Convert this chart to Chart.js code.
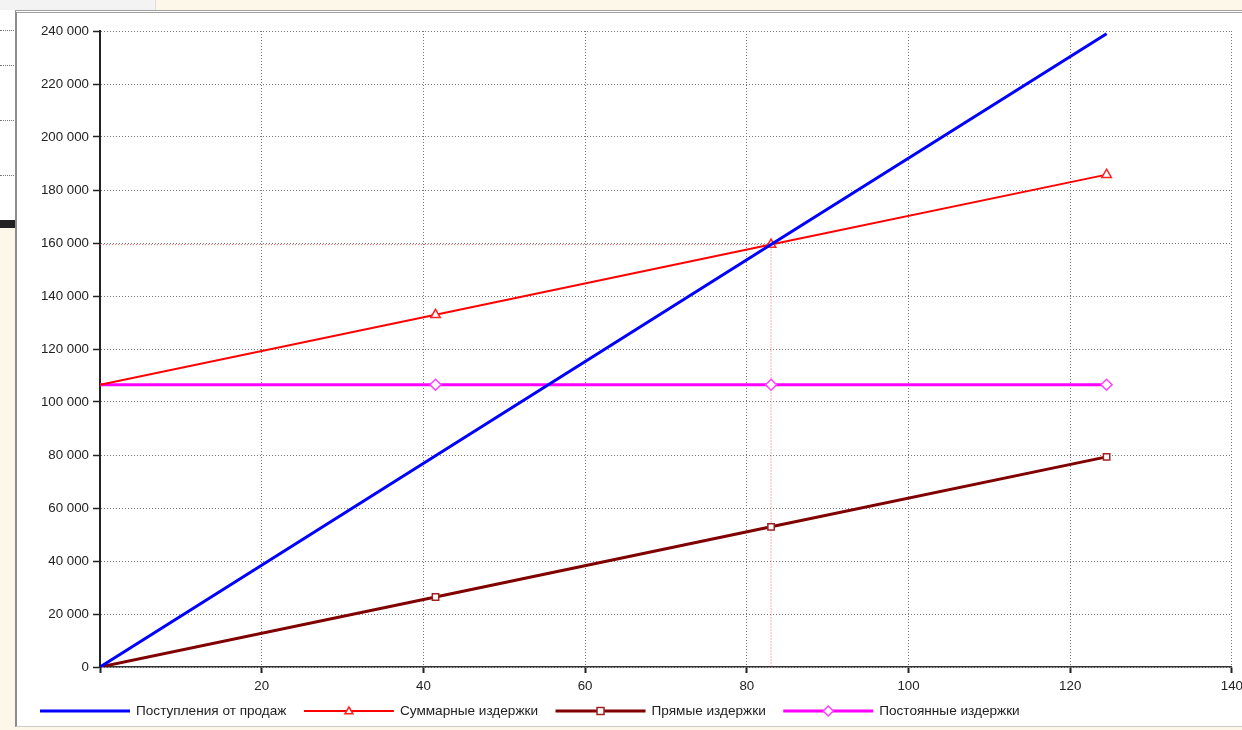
<!DOCTYPE html>
<html lang="ru">
<head>
    <meta charset="UTF-8" />
    <script src="https://cdn.jsdelivr.net/npm/chart.js"></script>
    <title>Точка безубыточности</title>
    <style>
        body { margin: 0; width: 1242px; height: 730px; overflow: hidden; background: #fdf7ea; position: relative; font-family: "Liberation Sans", Arial, sans-serif; }
        .strip { position: absolute; left: 0; top: 0; width: 155px; height: 10px; background: #f3f3f3; border-right: 1px solid #ddd; }
        .side { position: absolute; left: 0; top: 10px; width: 15px; height: 210px; background: #fff; }
        .side i { position: absolute; left: 0; width: 14px; border-top: 1px dotted #777; }
        .bar { position: absolute; left: 0; top: 220px; width: 15px; height: 8px; background: #222; }
        .frame { position: absolute; left: 15px; top: 10px; right: 0; bottom: 3px; background: #fff; border-left: 2px solid #8c8c8c; border-top: 3px double #a0a0a0; border-bottom: 1px solid #ccc; }
        .wrap { position: absolute; left: 17px; top: 13px; width: 1231px; height: 714px; }
    </style>
</head>
<body>
    <div class="strip"></div>
    <div class="side">
        <i style="top:20px"></i><i style="top:55px"></i><i style="top:110px"></i><i style="top:165px"></i>
    </div>
    <div class="bar"></div>
    <div class="frame"></div>
    <div class="wrap"><canvas id="grafico"></canvas></div>

    <script>
        // объём продаж, шт.
        const volumes = [0, 41.5, 83, 124.5];
        const revenue = [0, 79700, 159400, 239000];
        const totalCosts = [106500, 132900, 159400, 185800];
        const directCosts = [0, 26400, 52900, 79300];
        const fixedCosts = [106500, 106500, 106500, 106500];
        // точка безубыточности
        const breakEvenX = 83;
        const breakEvenY = 159400;

        const seriesNames = ['Поступления от продаж', 'Суммарные издержки', 'Прямые издержки', 'Постоянные издержки'];
        const xTicks = [0, 20, 40, 60, 80, 100, 120, 140];
        const yMax = 240000;

        const toPoints = vals => vals.map((v, i) => ({ x: volumes[i], y: v }));
        const markers = [0, 5.5, 5.5, 5.5];
        const fmt = v => String(v).replace(/\B(?=(\d{3})+(?!\d))/g, ' ');
        const fontFamily = '"Liberation Sans", Arial, sans-serif';

        const legendPlugin = {
            id: 'legendaSnizu',
            afterDraw(chart) {
                const ctx = chart.ctx;
                const y = 698;
                let x = 23;
                ctx.save();
                ctx.font = '13.6px ' + fontFamily;
                ctx.textBaseline = 'middle';
                chart.data.datasets.forEach(ds => {
                    if (ds.skipLegend) return;
                    ctx.strokeStyle = ds.borderColor;
                    ctx.lineWidth = ds.borderWidth;
                    ctx.setLineDash([]);
                    ctx.beginPath();
                    ctx.moveTo(x, y);
                    ctx.lineTo(x + 90, y);
                    ctx.stroke();
                    drawMarker(ctx, ds.pointStyle, x + 45, y, ds.legendRadius, ds.pointBorderColor, ds.pointBorderWidth);
                    ctx.fillStyle = '#222';
                    ctx.fillText(ds.label, x + 96, y);
                    x += 96 + ctx.measureText(ds.label).width + 17.5;
                });
                ctx.restore();
            }
        };

        function drawMarker(ctx, style, x, y, r, color, w) {
            if (!r) return;
            ctx.beginPath();
            if (style === 'triangle') {
                ctx.moveTo(x, y - r);
                ctx.lineTo(x + r, y + r * 0.7);
                ctx.lineTo(x - r, y + r * 0.7);
                ctx.closePath();
            } else if (style === 'rect') {
                ctx.rect(x - r, y - r, 2 * r, 2 * r);
            } else if (style === 'rectRot') {
                ctx.moveTo(x, y - r);
                ctx.lineTo(x + r, y);
                ctx.lineTo(x, y + r);
                ctx.lineTo(x - r, y);
                ctx.closePath();
            } else {
                return;
            }
            ctx.fillStyle = '#fff';
            ctx.fill();
            ctx.lineWidth = w;
            ctx.strokeStyle = color;
            ctx.stroke();
        }

        new Chart(document.getElementById('grafico'), {
            type: 'line',
            data: {
                datasets: [
                    {
                        label: seriesNames[0],
                        data: toPoints(revenue),
                        borderColor: '#0000ff',
                        borderWidth: 3,
                        pointRadius: 0,
                        pointStyle: false,
                        legendRadius: 0
                    },
                    {
                        label: seriesNames[1],
                        data: toPoints(totalCosts),
                        borderColor: '#ff0000',
                        borderWidth: 2,
                        pointStyle: 'triangle',
                        pointRadius: markers,
                        pointBackgroundColor: '#fff',
                        pointBorderColor: '#ff2020',
                        pointBorderWidth: 1.5,
                        legendRadius: 4
                    },
                    {
                        label: seriesNames[2],
                        data: toPoints(directCosts),
                        borderColor: '#800000',
                        borderWidth: 3,
                        pointStyle: 'rect',
                        pointRadius: markers.map(r => r ? 4.5 : 0),
                        pointBackgroundColor: '#fff',
                        pointBorderColor: '#a02020',
                        pointBorderWidth: 1.5,
                        legendRadius: 3.5
                    },
                    {
                        label: seriesNames[3],
                        data: toPoints(fixedCosts),
                        borderColor: '#ff00ff',
                        borderWidth: 3,
                        pointStyle: 'rectRot',
                        pointRadius: markers,
                        pointBackgroundColor: '#fff',
                        pointBorderColor: '#ff40ff',
                        pointBorderWidth: 1.5,
                        legendRadius: 5
                    },
                    {
                        label: 'ТБУ',
                        skipLegend: true,
                        data: [
                            { x: volumes[0], y: breakEvenY },
                            { x: breakEvenX, y: breakEvenY },
                            { x: breakEvenX, y: 0 }
                        ],
                        borderColor: 'rgba(255, 60, 60, 0.8)',
                        borderWidth: 1,
                        borderDash: [1, 2],
                        pointRadius: 0,
                        order: 5
                    }
                ]
            },
            options: {
                responsive: true,
                maintainAspectRatio: false,
                animation: false,
                layout: { padding: { top: 18, bottom: 34, left: 0, right: 0 } },
                plugins: {
                    legend: { display: false },
                    tooltip: { enabled: false }
                },
                scales: {
                    x: {
                        type: 'linear',
                        min: 0,
                        max: 140,
                        afterFit: s => { s.height = 26; },
                        afterBuildTicks: s => { s.ticks = xTicks.map(v => ({ value: v })); },
                        ticks: {
                            padding: 5,
                            color: '#222',
                            font: { size: 13.3, family: fontFamily },
                            callback: v => v === 0 ? '' : v
                        },
                        grid: {
                            color: '#777',
                            lineWidth: 1,
                            tickLength: 6,
                            tickColor: '#222',
                            tickWidth: 2,
                            tickBorderDash: []
                        },
                        border: { display: true, color: '#333', width: 1.5, dash: [1, 2] }
                    },
                    y: {
                        min: 0,
                        max: yMax,
                        afterFit: s => { s.width = 83; },
                        ticks: {
                            stepSize: 20000,
                            padding: 4,
                            color: '#222',
                            font: { size: 13.3, family: fontFamily },
                            callback: v => fmt(v)
                        },
                        grid: {
                            color: '#777',
                            lineWidth: 1,
                            tickLength: 7,
                            tickColor: '#222',
                            tickWidth: 1.5,
                            tickBorderDash: []
                        },
                        border: { display: true, color: '#222', width: 2, dash: [1, 2] }
                    }
                }
            },
            plugins: [legendPlugin]
        });
    </script>
</body>
</html>
